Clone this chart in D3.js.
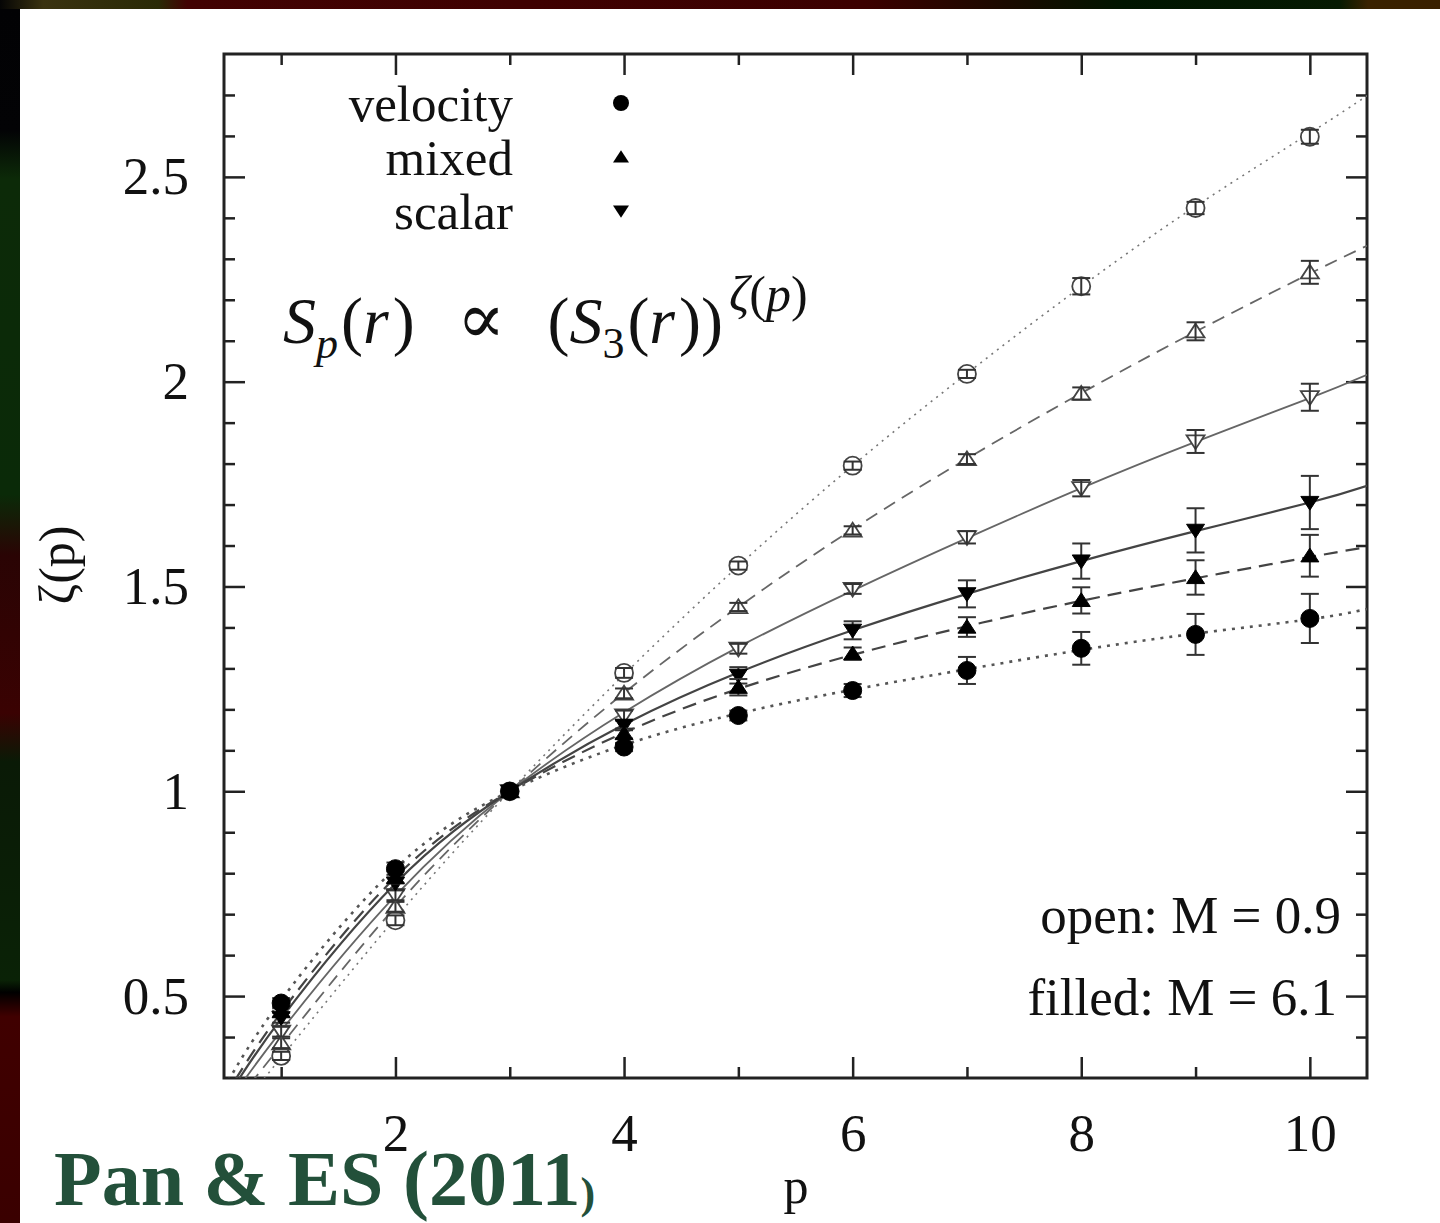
<!DOCTYPE html>
<html>
<head>
<meta charset="utf-8">
<script src="https://cdn.jsdelivr.net/npm/d3@7"></script>
<style>
body { margin: 0; background: #000; }
svg { display: block; }
text { font-family: "Liberation Serif", "Times New Roman", serif; }
</style>
</head>
<body>
<div id="chart"></div>
<script>
// measured moments p
const pValues = [1, 2, 3, 4, 5, 6, 7, 8, 9, 10]

// M = 0.9 (open symbols)
const velocityOpen = [0.354, 0.685, 1.0, 1.289, 1.551, 1.795, 2.019, 2.233, 2.424, 2.598]
const velocityOpenErr = [0.01, 0.012, 0, 0.012, 0.01, 0.01, 0.01, 0.02, 0.015, 0.017]
const mixedOpen = [0.385, 0.718, 1.0, 1.239, 1.45, 1.637, 1.811, 1.971, 2.123, 2.267]
const mixedOpenErr = [0.012, 0.012, 0, 0.012, 0.01, 0.01, 0.012, 0.015, 0.022, 0.028]
const scalarOpen = [0.413, 0.746, 1.0, 1.185, 1.348, 1.494, 1.62, 1.74, 1.854, 1.962]
const scalarOpenErr = [0.012, 0.012, 0, 0.012, 0.012, 0.012, 0.015, 0.02, 0.028, 0.033]

// M = 6.1 (filled symbols)
const scalarFilled = [0.447, 0.775, 1.0, 1.161, 1.283, 1.393, 1.482, 1.562, 1.637, 1.705]
const scalarFilledErr = [0.012, 0.015, 0, 0.012, 0.02, 0.022, 0.033, 0.043, 0.054, 0.065]
const mixedFilled = [0.462, 0.79, 1.0, 1.141, 1.254, 1.336, 1.401, 1.466, 1.522, 1.575]
const mixedFilledErr = [0.012, 0.015, 0, 0.012, 0.02, 0.015, 0.024, 0.032, 0.042, 0.051]
const velocityFilled = [0.483, 0.811, 1.0, 1.108, 1.185, 1.246, 1.295, 1.349, 1.383, 1.422]
const velocityFilledErr = [0.012, 0.015, 0, 0.01, 0.012, 0.016, 0.033, 0.04, 0.05, 0.06]

// model fits
const fitP = [0.5, 1, 2, 3, 4, 5, 6, 7, 8, 9, 10, 10.5]
const fitVelocityOpen = [0.18, 0.35, 0.69, 1.0, 1.285, 1.55, 1.795, 2.02, 2.232, 2.428, 2.607, 2.698]
const fitMixedOpen = [0.205, 0.38, 0.718, 1.0, 1.24, 1.45, 1.64, 1.812, 1.972, 2.122, 2.264, 2.332]
const fitScalarOpen = [0.225, 0.415, 0.745, 1.0, 1.193, 1.352, 1.49, 1.618, 1.74, 1.853, 1.96, 2.017]
const fitScalarFilled = [0.24, 0.445, 0.775, 1.0, 1.163, 1.29, 1.393, 1.482, 1.562, 1.635, 1.705, 1.746]
const fitMixedFilled = [0.25, 0.46, 0.79, 1.0, 1.143, 1.25, 1.333, 1.403, 1.465, 1.52, 1.572, 1.596]
const fitVelocityFilled = [0.275, 0.49, 0.812, 1.0, 1.113, 1.19, 1.248, 1.298, 1.345, 1.385, 1.42, 1.445]

// ticks
const xMajorTicks = [2, 4, 6, 8, 10]
const xMinorTicks = [1, 3, 5, 7, 9]
const yMajorTicks = [0.5, 1, 1.5, 2, 2.5]
const yMinorTicks = [0.4, 0.6, 0.7, 0.8, 0.9, 1.1, 1.2, 1.3, 1.4, 1.6, 1.7, 1.8, 1.9, 2.1, 2.2, 2.3, 2.4, 2.6, 2.7]

const legendNames = ["velocity", "mixed", "scalar"]
const legendShapes = ["circle", "up", "down"]

var W = 1440, H = 1223
var svg = d3.select("#chart").append("svg").attr("width", W).attr("height", H)

// slide background
var defs = svg.append("defs")
var topGrad = defs.append("linearGradient").attr("id", "topGrad")
topGrad.selectAll("stop")
.data([["0%", "#050505"], ["3%", "#3a3210"], ["11%", "#2a2a06"], ["13%", "#420202"], ["60%", "#3c0000"], ["70%", "#1a0a00"], ["78%", "#001500"], ["93%", "#061a02"], ["95%", "#3a2200"], ["100%", "#3a2000"]])
.enter().append("stop").attr("offset", d => d[0]).attr("stop-color", d => d[1])
var leftGrad = defs.append("linearGradient").attr("id", "leftGrad").attr("x1", 0).attr("y1", 0).attr("x2", 0).attr("y2", 1)
leftGrad.selectAll("stop")
.data([["0%", "#020204"], ["10%", "#030305"], ["14%", "#0c2a08"], ["40%", "#0a2a08"], ["45%", "#2a0404"], ["58%", "#3a0202"], ["62%", "#0a1a06"], ["80%", "#0a2206"], ["81%", "#000"], ["83%", "#400000"], ["100%", "#3a0000"]])
.enter().append("stop").attr("offset", d => d[0]).attr("stop-color", d => d[1])

svg.append("rect").attr("width", W).attr("height", 9).attr("fill", "url(#topGrad)")
svg.append("rect").attr("y", 9).attr("width", 20).attr("height", H - 9).attr("fill", "url(#leftGrad)")
svg.append("rect").attr("x", 20).attr("y", 9).attr("width", W - 20).attr("height", H - 9).attr("fill", "#fff")

var x = d3.scaleLinear().domain([0.5, 10.5]).range([224, 1367])
var y = d3.scaleLinear().domain([0.3, 2.8]).range([1078, 54])

defs.append("clipPath").attr("id", "plotClip")
.append("rect")
.attr("x", x.range()[0]).attr("y", y.range()[1])
.attr("width", x.range()[1] - x.range()[0]).attr("height", y.range()[0] - y.range()[1])

// axes, ticks pointing inward on all four sides
function drawAxis(axis, transform, withLabels) {
    var g = svg.append("g").attr("transform", transform).call(axis)
    g.select(".domain").remove()
    g.selectAll(".tick line").attr("stroke", "#222").attr("stroke-width", 2.5)
    if (withLabels) {
        g.selectAll(".tick text")
        .attr("font-family", "Liberation Serif, serif")
        .attr("font-size", 53)
        .attr("fill", "#111")
    } else {
        g.selectAll(".tick text").remove()
    }
}
var fmt = d => String(d)
var bottomY = y.range()[0], topY = y.range()[1], leftX = x.range()[0], rightX = x.range()[1]

drawAxis(d3.axisBottom(x).tickValues(xMajorTicks).tickSize(-21).tickPadding(35).tickFormat(fmt), `translate(0,${bottomY})`, true)
drawAxis(d3.axisBottom(x).tickValues(xMinorTicks).tickSize(-11), `translate(0,${bottomY})`, false)
drawAxis(d3.axisTop(x).tickValues(xMajorTicks).tickSize(-21), `translate(0,${topY})`, false)
drawAxis(d3.axisTop(x).tickValues(xMinorTicks).tickSize(-11), `translate(0,${topY})`, false)
drawAxis(d3.axisLeft(y).tickValues(yMajorTicks).tickSize(-21).tickPadding(35).tickFormat(fmt), `translate(${leftX},0)`, true)
drawAxis(d3.axisLeft(y).tickValues(yMinorTicks).tickSize(-11), `translate(${leftX},0)`, false)
drawAxis(d3.axisRight(y).tickValues(yMajorTicks).tickSize(-21), `translate(${rightX},0)`, false)
drawAxis(d3.axisRight(y).tickValues(yMinorTicks).tickSize(-11), `translate(${rightX},0)`, false)

svg.append("rect")
.attr("x", leftX).attr("y", topY)
.attr("width", rightX - leftX).attr("height", bottomY - topY)
.attr("fill", "none").attr("stroke", "#222").attr("stroke-width", 3)

// axis titles
svg.append("text")
.attr("transform", "translate(74,565) rotate(-90)")
.attr("text-anchor", "middle").attr("font-size", 50).attr("fill", "#111")
.text("ζ(p)")
svg.append("text")
.attr("x", 796).attr("y", 1203)
.attr("text-anchor", "middle").attr("font-size", 50).attr("fill", "#111")
.text("p")

// series
var series = [
    { vals: velocityOpen, err: velocityOpenErr, fit: fitVelocityOpen, shape: "circle", open: true, color: "#777", width: 1.6, dash: "2,5" },
    { vals: mixedOpen, err: mixedOpenErr, fit: fitMixedOpen, shape: "up", open: true, color: "#666", width: 1.8, dash: "13,8" },
    { vals: scalarOpen, err: scalarOpenErr, fit: fitScalarOpen, shape: "down", open: true, color: "#666", width: 1.8, dash: null },
    { vals: scalarFilled, err: scalarFilledErr, fit: fitScalarFilled, shape: "down", open: false, color: "#444", width: 2.2, dash: null },
    { vals: mixedFilled, err: mixedFilledErr, fit: fitMixedFilled, shape: "up", open: false, color: "#444", width: 2.2, dash: "14,8" },
    { vals: velocityFilled, err: velocityFilledErr, fit: fitVelocityFilled, shape: "circle", open: false, color: "#555", width: 2.6, dash: "3,6" }
]

var line = d3.line()
.x(d => x(d[0]))
.y(d => y(d[1]))
.curve(d3.curveNatural)

var fits = svg.append("g").attr("clip-path", "url(#plotClip)")
series.forEach(s => {
    fits.append("path")
    .datum(fitP.map((p, i) => [p, s.fit[i]]))
    .attr("d", line)
    .attr("fill", "none")
    .attr("stroke", s.color)
    .attr("stroke-width", s.width)
    .attr("stroke-dasharray", s.dash)
})

function shapePath(shape, r) {
    if (shape == "circle") return d3.symbol().type(d3.symbolCircle).size(Math.PI * r * r)()
    var h = r * 0.85
    if (shape == "up") return `M0,${-h}L${r},${h * 0.8}L${-r},${h * 0.8}Z`
    return `M0,${h}L${r},${-h * 0.8}L${-r},${-h * 0.8}Z`
}

function drawBars(g, s) {
    var pts = pValues.map((p, i) => ({ p: p, v: s.vals[i], e: s.err[i] })).filter(d => d.e > 0)
    var bars = g.selectAll(null).data(pts).enter().append("g")
    .attr("stroke", "#333").attr("stroke-width", 2)
    bars.append("line")
    .attr("x1", d => x(d.p)).attr("x2", d => x(d.p))
    .attr("y1", d => y(d.v - d.e)).attr("y2", d => y(d.v + d.e))
    bars.append("line")
    .attr("x1", d => x(d.p) - 9).attr("x2", d => x(d.p) + 9)
    .attr("y1", d => y(d.v - d.e)).attr("y2", d => y(d.v - d.e))
    bars.append("line")
    .attr("x1", d => x(d.p) - 9).attr("x2", d => x(d.p) + 9)
    .attr("y1", d => y(d.v + d.e)).attr("y2", d => y(d.v + d.e))
}

function drawMarkers(g, s) {
    g.selectAll(null)
    .data(pValues.map((p, i) => [p, s.vals[i]]))
    .enter().append("path")
    .attr("transform", d => `translate(${x(d[0])},${y(d[1])})`)
    .attr("d", shapePath(s.shape, 9))
    .attr("fill", s.open ? "#fff" : "#000")
    .attr("stroke", s.open ? "#444" : "#000")
    .attr("stroke-width", s.open ? 1.8 : 1)
}

var marks = svg.append("g")
series.forEach(s => {
    var g = marks.append("g")
    if (s.open) {
        drawMarkers(g, s)
        drawBars(g, s)
    } else {
        drawBars(g, s)
        drawMarkers(g, s)
    }
})

// legend
var legend = svg.append("g")
legendNames.forEach((name, i) => {
    var ly = 103 + i * 54
    legend.append("text")
    .attr("x", 513).attr("y", ly + 18)
    .attr("text-anchor", "end").attr("font-size", 51).attr("fill", "#111")
    .text(name)
    legend.append("path")
    .attr("transform", `translate(621,${ly})`)
    .attr("d", shapePath(legendShapes[i], 8))
    .attr("fill", "#000")
})

// formula
var formula = svg.append("text")
.attr("x", 283).attr("y", 343)
.attr("font-size", 66).attr("fill", "#111")
formula.append("tspan").attr("font-style", "italic").text("S")
formula.append("tspan").attr("font-style", "italic").attr("font-size", 44).attr("dy", 15).text("p")
formula.append("tspan").attr("dy", -15).attr("dx", 3).text("(")
formula.append("tspan").attr("font-style", "italic").text("r")
formula.append("tspan").attr("dx", 4).text(")")
formula.append("tspan").attr("dx", 42).attr("font-family", "DejaVu Serif").attr("font-size", 72).text("∝")
formula.append("tspan").attr("dx", 42).text("(")
formula.append("tspan").attr("font-style", "italic").text("S")
formula.append("tspan").attr("font-size", 44).attr("dy", 15).text("3")
formula.append("tspan").attr("dy", -15).attr("dx", 3).text("(")
formula.append("tspan").attr("font-style", "italic").text("r")
formula.append("tspan").attr("dx", 4).text("))")
formula.append("tspan").attr("font-size", 50).attr("dy", -32).attr("dx", 6).attr("font-style", "italic").text("ζ")
formula.append("tspan").attr("font-size", 50).text("(")
formula.append("tspan").attr("font-size", 50).attr("font-style", "italic").text("p")
formula.append("tspan").attr("font-size", 50).text(")")

// Mach number notes
svg.append("text")
.attr("x", 1341).attr("y", 933)
.attr("text-anchor", "end").attr("font-size", 53).attr("fill", "#111")
.text("open: M = 0.9")
svg.append("text")
.attr("x", 1337).attr("y", 1015)
.attr("text-anchor", "end").attr("font-size", 53).attr("fill", "#111")
.text("filled: M = 6.1")

// citation
var cite = svg.append("text")
.attr("x", 54).attr("y", 1205)
.attr("font-size", 78).attr("font-weight", "bold").attr("fill", "#23503a")
cite.append("tspan").text("Pan & ES (2011")
cite.append("tspan").attr("font-size", 44).attr("dy", 3).text(")")
</script>
</body>
</html>
